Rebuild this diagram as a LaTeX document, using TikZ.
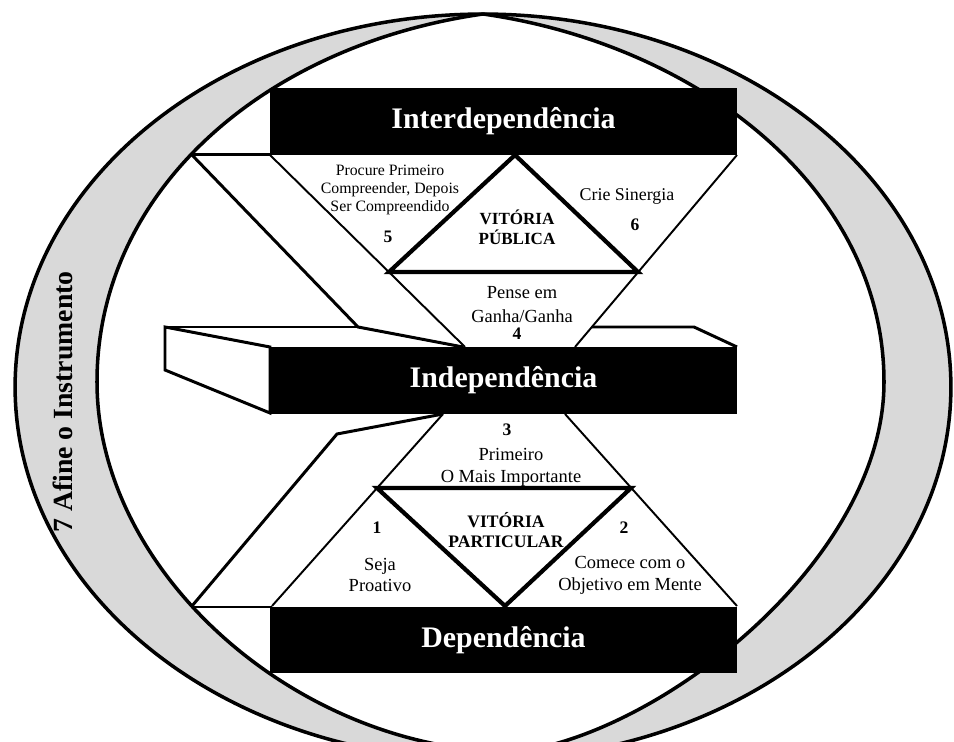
\documentclass[tikz,border=0pt]{standalone}
\usepackage{fontspec}
\setmainfont{Liberation Serif}

\begin{document}
\begin{tikzpicture}[x=0.02cm,y=-0.02cm,
  band/.style={line width=2pt},
  armline/.style={line width=1.7pt},
  edgeline/.style={line width=1.1pt},
  winline/.style={line width=2.4pt},
  levelbox/.style={fill=black,text=white,inner sep=0pt,minimum width=9.34cm,minimum height=1.34cm,font=\fontsize{17}{20}\selectfont\bfseries},
  habittext/.style={align=center,inner sep=0pt,font=\fontsize{10.5}{12.5}\selectfont},
  habitnum/.style={inner sep=0pt,font=\fontsize{10}{12}\selectfont\bfseries},
  wintext/.style={align=center,inner sep=0pt,font=\fontsize{9.7}{11.4}\selectfont\bfseries}]
  \fill[white] (0,0) rectangle (954,742);
  \useasboundingbox (0,0) rectangle (954,742);
  \clip (0,0) rectangle (954,742);

  % ring
  \coordinate (top) at (483,14);
  \coordinate (lft) at (97,382);
  \coordinate (rgt) at (884,382);
  \coordinate (bot) at (515,752);
  \fill[black!15] (top) arc[start angle=90,end angle=270,x radius=9.36cm,y radius=7.46cm]
    -- (bot) .. controls (300,752) and (97,574) .. (lft)
    .. controls (97,190) and (265,45) .. cycle;
  \fill[black!15] (top) arc[start angle=90,end angle=-90,x radius=9.36cm,y radius=7.46cm]
    -- (bot) .. controls (660,735) and (884,560) .. (rgt)
    .. controls (884,190) and (700,45) .. cycle;
  \draw[band] (483,387) ellipse [x radius=9.36cm,y radius=7.46cm];
  \draw[band] (top) .. controls (265,45) and (97,190) .. (lft)
    .. controls (97,574) and (300,752) .. (bot)
    .. controls (660,735) and (884,560) .. (rgt)
    .. controls (884,190) and (700,45) .. cycle;

  % upper part
  \draw[armline] (190,155) -- (270,155);
  \draw[armline] (192,155) -- (358,327) -- (463,347);
  \draw[armline] (165,327) -- (358,327);
  \filldraw[armline,fill=white] (165,327) -- (270,347) -- (270,413) -- (165,370) -- cycle;
  \draw[armline] (592,327) -- (694,327) -- (737,347);
  \draw[edgeline] (270,155) -- (465,347);
  \draw[edgeline] (737,155) -- (575,347);
  \draw[winline] (515,155) -- (638,272) -- (389,272) -- cycle;

  % lower part
  \draw[armline] (193,607) -- (272,607);
  \draw[armline] (192,606) -- (337,434) -- (443,414);
  \draw[edgeline] (443,414) -- (272,606);
  \draw[edgeline] (565,414) -- (737,606);
  \draw[winline] (377,488) -- (631,488) -- (505,606) -- cycle;

  % levels
  \node[levelbox] (inter) at (503.5,121.5) {Interdependência};
  \node[levelbox] (indep) at (503.5,380.5) {Independência};
  \node[levelbox] (dep) at (503.5,640) {Dependência};

  % habits
  \node[habittext,font=\fontsize{9}{10.3}\selectfont] (h5) at (390,190) {Procure Primeiro\\Compreender, Depois\\Ser Compreendido};
  \node[habitnum] (n5) at (388,237) {5};
  \node[habittext,font=\fontsize{10.2}{12}\selectfont] (h6) at (627,197) {Crie Sinergia};
  \node[habitnum] (n6) at (635,225) {6};
  \node[wintext] (pub) at (517,227) {VITÓRIA\\PÚBLICA};
  \node[habittext,font=\fontsize{10.5}{13.6}\selectfont] (h4) at (522,305) {Pense em\\Ganha/Ganha};
  \node[habitnum] (n4) at (517,334) {4};
  \node[habitnum] (n3) at (507,430) {3};
  \node[habittext] (h3) at (511,467) {Primeiro\\O Mais Importante};
  \node[habitnum] (n1) at (377,528) {1};
  \node[habittext] (h1) at (380,575) {Seja\\Proativo};
  \node[wintext,font=\fontsize{10}{11.4}\selectfont\bfseries] (par) at (506,530) {VITÓRIA\\PARTICULAR};
  \node[habitnum] (n2) at (624,528) {2};
  \node[habittext] (h2) at (630,575) {Comece com o\\Objetivo em Mente};
  \node[rotate=90,inner sep=0pt,font=\fontsize{15.8}{18}\selectfont\bfseries] (saw) at (63,402) {7 Afine o Instrumento};
\end{tikzpicture}
\end{document}
